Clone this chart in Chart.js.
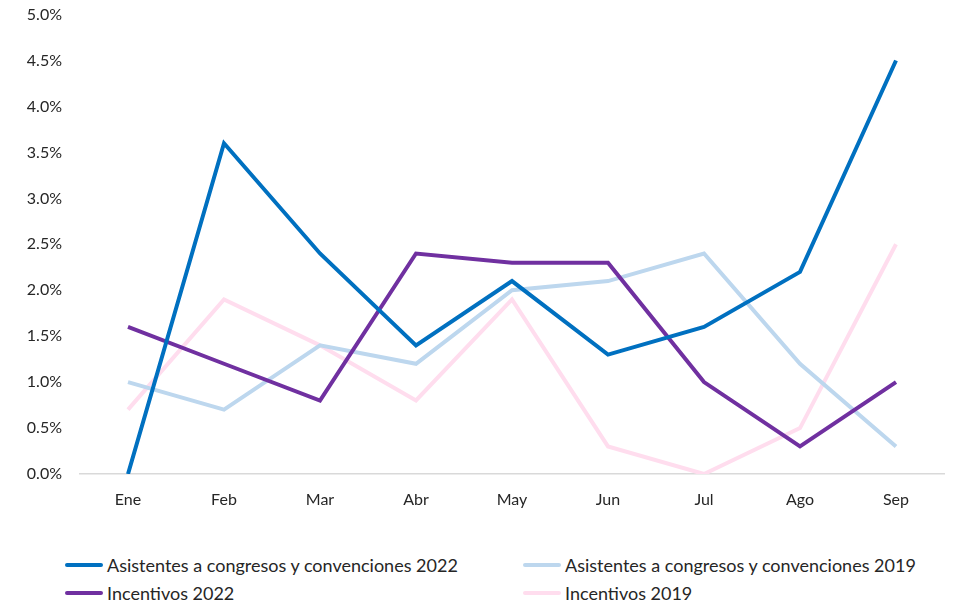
<!DOCTYPE html>
<html>
<head>
<meta charset="utf-8">
<script src="https://cdn.jsdelivr.net/npm/chart.js@4/dist/chart.umd.min.js"></script>
<style>
  body { margin: 0; background: #fff; font-family: Lato, sans-serif; overflow: hidden; }
  #wrap { position: absolute; left: 0; top: -13px; width: 953px; height: 543px; }
  #legend { position: absolute; left: 65px; top: 554px; width: 880px; color: #262626; font-size: 18px; }
  .item { position: absolute; display: flex; align-items: center; white-space: nowrap; }
  .swatch { width: 38px; height: 4px; border-radius: 2px; margin-right: 4px; }
</style>
</head>
<body>
<div id="wrap"><canvas id="myChart"></canvas></div>
<div id="legend"></div>
<script>
const months = ["Ene", "Feb", "Mar", "Abr", "May", "Jun", "Jul", "Ago", "Sep"];
const asistentes2022 = [0.0, 3.6, 2.4, 1.4, 2.1, 1.3, 1.6, 2.2, 4.5];
const asistentes2019 = [1.0, 0.7, 1.4, 1.2, 2.0, 2.1, 2.4, 1.2, 0.3];
const incentivos2022 = [1.6, 1.2, 0.8, 2.4, 2.3, 2.3, 1.0, 0.3, 1.0];
const incentivos2019 = [0.7, 1.9, 1.4, 0.8, 1.9, 0.3, 0.0, 0.5, 2.5];

const series = [
  { label: "Asistentes a congresos y convenciones 2022", data: asistentes2022, color: "#0070C0" },
  { label: "Asistentes a congresos y convenciones 2019", data: asistentes2019, color: "#BDD7EE" },
  { label: "Incentivos 2022", data: incentivos2022, color: "#7030A0" },
  { label: "Incentivos 2019", data: incentivos2019, color: "#FFDDEE" },
];

const ctx = document.getElementById("myChart");

new Chart(ctx, {
  type: "line",
  data: {
    labels: months,
    // draw order: light lines underneath
    datasets: series.map((s, i) => ({
      label: s.label,
      data: s.data,
      borderColor: s.color,
      backgroundColor: s.color,
      borderWidth: 4,
      pointRadius: 0,
      tension: 0,
      order: [1, 3, 2, 4][i],
    })),
  },
  options: {
    responsive: true,
    maintainAspectRatio: false,
    animation: false,
    layout: { padding: { top: 4, right: 9 } },
    plugins: {
      legend: { display: false },
      tooltip: { enabled: false },
    },
    scales: {
      x: {
        offset: true,
        grid: { display: false },
        border: { display: true, color: "#D9D9D9", width: 1.5 },
        ticks: { color: "#262626", font: { family: "Lato", size: 16 }, padding: 8 },
        afterFit: (s) => { s.height = 56; },
      },
      y: {
        min: 0,
        max: 5,
        grid: { display: false, drawTicks: false },
        border: { display: false },
        ticks: {
          stepSize: 0.5,
          padding: 18,
          color: "#262626",
          font: { family: "Lato", size: 16 },
          callback: (v) => v.toFixed(1) + "%",
        },
        afterFit: (s) => { s.width = 80; },
      },
    },
  },
});

const legend = document.getElementById("legend");
const spots = [[0, 0], [458, 0], [0, 28], [458, 28]];
series.forEach((s, i) => {
  const el = document.createElement("div");
  el.className = "item";
  el.style.left = spots[i][0] + "px";
  el.style.top = spots[i][1] + "px";
  el.innerHTML = '<span class="swatch" style="background:' + s.color + '"></span>' + s.label;
  legend.appendChild(el);
});
</script>
</body>
</html>
